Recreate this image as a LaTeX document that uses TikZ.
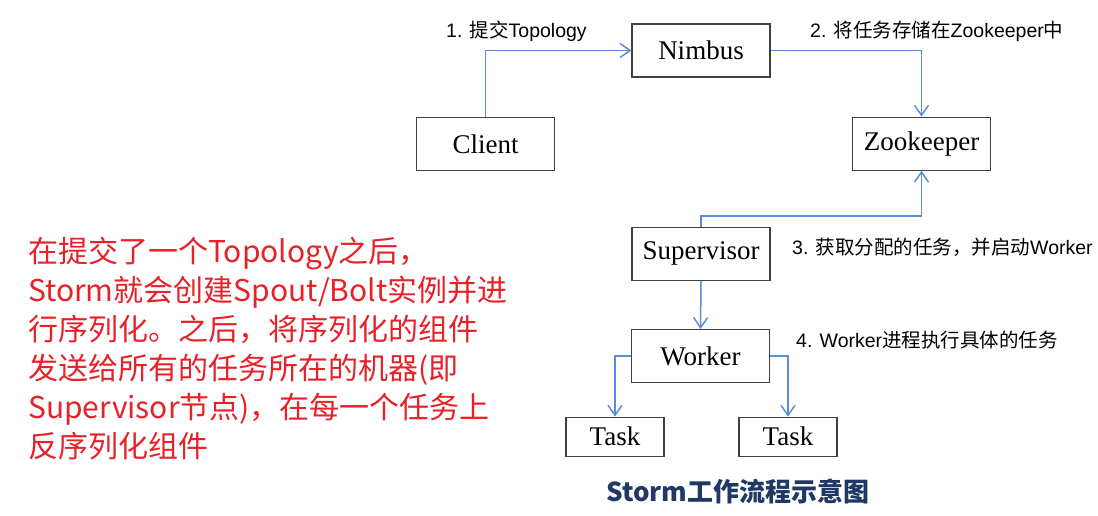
\documentclass[tikz,border=0pt]{standalone}
\usepackage{fontspec}
\setmainfont{Liberation Serif}
\newfontfamily\cjk{Noto Sans CJK SC}
\newfontfamily\arial{Liberation Sans}
\usetikzlibrary{arrows.meta}
\definecolor{flowblue}{RGB}{91,141,214}
\definecolor{notered}{RGB}{232,32,40}
\definecolor{titleblue}{RGB}{31,56,100}
\newcommand{\lat}[1]{{\arial #1}}
\tikzset{
  box/.style={draw=black!75,line width=1.2pt,minimum height=53pt,minimum width=138pt,inner sep=0pt,font=\fontsize{27}{30}\selectfont},
  taskbox/.style={box,minimum height=39pt,minimum width=98pt},
  flow/.style={draw=flowblue,line width=1.5pt,-{Straight Barb[length=10pt,width=14pt,line width=1.5pt]}},
  steplabel/.style={anchor=west,inner sep=0pt,font=\cjk\fontsize{19.5}{22}\selectfont}
}
\begin{document}
\begin{tikzpicture}[x=1pt,y=-1pt]
  \useasboundingbox (0,0) rectangle (1098,516);
  % components
  \node[box] (nimbus) at (701,50.5) {Nimbus};
  \node[box] (client) at (485.5,144) {Client};
  \node[box] (zk) at (921.5,143.7) {Zookeeper};
  \node[box] (sup) at (701,253.7) {Supervisor};
  \node[box] (worker) at (700.5,356) {Worker};
  \node[taskbox] (task1) at (615,436.7) {Task};
  \node[taskbox] (task2) at (788,436.7) {Task};
  % flow
  \draw[flow] (client.north) |- (nimbus.west);
  \draw[flow] (nimbus.east) -| (zk.north);
  \draw[flow] (sup.north) -- ++(0,-10.5) -| (zk.south);
  \draw[flow] (sup.south) -- (worker.north);
  \draw[flow] (worker.west) -| (task1.north);
  \draw[flow] (worker.east) -| (task2.north);
  % step labels
  \node[steplabel] (l1) at (446,31) {\lat{1. }提交\lat{Topology}};
  \node[steplabel] (l2) at (810,31) {\lat{2. }将任务存储在\lat{Zookeeper}中};
  \node[steplabel] (l3) at (792,247) {\lat{3. }获取分配的任务，并启动\lat{Worker}};
  \node[steplabel] (l4) at (796,340) {\lat{4. Worker}进程执行具体的任务};
  % note and title
  \node[anchor=north west,inner sep=0pt,align=left,text=notered,font=\cjk\fontsize{30}{39}\selectfont] (note) at (28,237)
    {在提交了一个Topology之后，\\Storm就会创建Spout/Bolt实例并进\\行序列化。之后，将序列化的组件\\发送给所有的任务所在的机器(即\\Supervisor节点)，在每一个任务上\\反序列化组件};
  \node[text=titleblue,inner sep=0pt,font=\cjk\bfseries\fontsize{26}{29}\selectfont] (title) at (738,491.5) {Storm工作流程示意图};
\end{tikzpicture}
\end{document}
